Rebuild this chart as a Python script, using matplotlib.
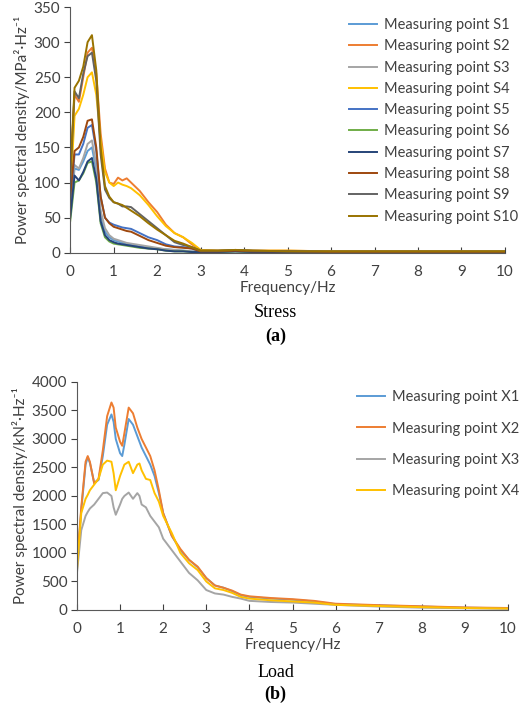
import matplotlib
matplotlib.use("Agg")
import matplotlib.pyplot as plt
plt.rcParams['font.family'] = ['Lato', 'DejaVu Sans']

# ---- Stress PSD (a) ----
fa = [0,0.1,0.2,0.3,0.4,0.5,0.6,0.7,0.8,0.9,1.0,1.1,1.2,1.3,1.4,1.6,1.8,2.0,2.2,2.4,2.6,2.8,3.0,3.4,3.8,4.2,5,6,7,8,9,10]
S1 = [55,120,118,130,145,150,118,55,30,22,18,16,14,12,11,9,7,6,5,4,3,2,1,1,2,1,1,1,1,1,1,1]
S2 = [110,225,215,250,285,292,255,170,120,100,98,107,103,106,100,88,72,58,40,28,22,12,4,3,4,3,3,2,2,2,2,2]
S3 = [60,125,120,135,155,160,125,60,35,25,20,18,16,14,13,11,9,7,5,4,3,2,1,1,2,1,1,1,1,1,1,1]
S4 = [80,195,205,225,250,257,225,160,115,100,95,100,97,95,92,82,68,52,38,28,22,14,4,3,4,3,3,2,2,2,2,2]
S5 = [70,140,140,155,178,182,145,80,50,43,40,38,36,35,34,28,22,18,12,9,8,6,2,2,3,2,2,1,1,1,1,1]
S6 = [45,100,103,113,128,130,100,42,22,16,13,12,11,10,9,7,6,5,3,2,2,1,1,1,2,1,1,1,1,1,1,1]
S7 = [50,110,103,115,130,135,105,45,25,18,15,13,12,11,10,8,6,5,3,2,2,1,1,1,2,1,1,1,1,1,1,1]
S8 = [80,145,150,165,188,190,150,80,50,42,37,35,33,31,30,24,18,14,10,8,7,6,2,2,3,2,2,1,1,1,1,1]
S9 = [100,230,220,255,280,285,245,140,90,78,72,70,66,66,65,55,45,35,25,15,11,8,3,3,4,3,2,2,2,2,2,2]
S10 = [110,235,245,265,300,310,260,150,95,80,72,70,68,64,60,52,42,33,25,17,13,8,3,3,4,3,2,2,2,2,2,2]
stress = [S1,S2,S3,S4,S5,S6,S7,S8,S9,S10]
stress_names = [f"Measuring point S{i}" for i in range(1,11)]
stress_colors = ["#5B9BD5","#ED7D31","#A5A5A5","#FFC000","#4472C4","#70AD47","#264478","#9E480E","#636363","#997300"]

# ---- Load PSD (b) ----
fb = [0,0.1,0.2,0.25,0.3,0.4,0.5,0.6,0.7,0.8,0.85,0.9,1.0,1.05,1.1,1.2,1.3,1.4,1.45,1.5,1.6,1.7,1.8,1.9,2.0,2.2,2.4,2.6,2.8,3.0,3.2,3.4,3.6,3.8,4.0,4.5,5,5.5,6,7,8,9,10]
X1 = [800,1750,2550,2680,2580,2230,2280,2700,3250,3430,3300,3000,2750,2700,2900,3350,3250,3050,2950,2850,2700,2550,2350,2050,1700,1300,1050,880,750,560,430,390,330,260,230,200,180,150,100,80,60,40,30]
X2 = [800,1800,2600,2700,2600,2220,2300,2800,3400,3640,3550,3200,2950,2880,3100,3550,3450,3200,3100,3000,2850,2700,2450,2100,1700,1300,1070,880,760,560,430,390,340,270,240,210,190,160,110,85,65,45,35]
X3 = [650,1400,1650,1720,1780,1850,1950,2050,2060,2000,1800,1670,1850,1950,2000,2060,1950,2050,2000,1850,1800,1650,1550,1450,1250,1050,850,650,520,350,290,270,230,200,160,140,130,110,90,60,40,30,20]
X4 = [700,1700,1950,2020,2100,2200,2300,2550,2620,2600,2400,2100,2350,2450,2550,2600,2400,2550,2570,2450,2300,2280,2050,1900,1650,1350,1000,820,700,500,380,350,300,230,200,170,150,130,90,70,50,35,25]
load = [X1,X2,X3,X4]
load_names = [f"Measuring point X{i}" for i in range(1,5)]
load_colors = ["#5B9BD5","#ED7D31","#A5A5A5","#FFC000"]

fig = plt.figure(figsize=(5.2,7.06), dpi=100)
TC = "#404040"
SERIF = ["Liberation Serif", "DejaVu Serif"]

def style(ax):
    for s in ["top","right"]:
        ax.spines[s].set_visible(False)
    for s in ["left","bottom"]:
        ax.spines[s].set_color("#595959")
    ax.tick_params(colors=TC, labelsize=11, length=4)
    ax.tick_params(axis="x", direction="in", pad=9)
    ax.tick_params(axis="y", direction="out", pad=3)

ax1 = fig.add_axes([0.135,0.642,0.836,0.348])
for y,n,c in zip(stress,stress_names,stress_colors):
    ax1.plot(fa,y,color=c,lw=1.4,label=n)
ax1.set_xlim(0,10); ax1.set_ylim(0,350)
ax1.set_xticks(range(11)); ax1.set_yticks(range(0,351,50))
style(ax1)
ax1.set_ylabel("Power spectral density/MPa²·Hz⁻¹", fontsize=11, color=TC, labelpad=3)
ax1.set_xlabel("Frequency/Hz", fontsize=11, color=TC, labelpad=1)
ax1.legend(loc="upper left", bbox_to_anchor=(0.625,0.985), frameon=False, fontsize=10.5,
           labelspacing=0.5, handlelength=1.9, handletextpad=0.5, borderpad=0, labelcolor=TC)
fig.text(0.53,0.557,"Stress",family=SERIF,fontsize=13,ha="center",va="center")
fig.text(0.53,0.523,"(a)",family=SERIF,fontsize=13,weight="bold",ha="center",va="center")

ax2 = fig.add_axes([0.148,0.136,0.829,0.323])
for y,n,c in zip(load,load_names,load_colors):
    ax2.plot(fb,y,color=c,lw=1.4,label=n)
ax2.set_xlim(0,10); ax2.set_ylim(0,4000)
ax2.set_xticks(range(11)); ax2.set_yticks(range(0,4001,500))
style(ax2)
ax2.set_ylabel("Power spectral density/kN²·Hz⁻¹", fontsize=11, color=TC, labelpad=3)
ax2.set_xlabel("Frequency/Hz", fontsize=11, color=TC, labelpad=1)
ax2.legend(loc="upper left", bbox_to_anchor=(0.633,0.995), frameon=False, fontsize=10.5,
           labelspacing=1.18, handlelength=1.9, handletextpad=0.5, borderpad=0, labelcolor=TC)
fig.text(0.53,0.048,"Load",family=SERIF,fontsize=13,ha="center",va="center")
fig.text(0.53,0.016,"(b)",family=SERIF,fontsize=13,weight="bold",ha="center",va="center")

fig.savefig("out.png", dpi=100)
